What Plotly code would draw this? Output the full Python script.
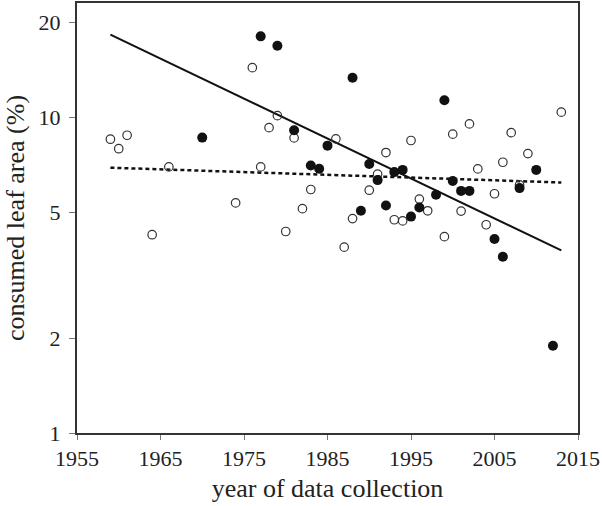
import plotly.graph_objects as go

# Open circles
open_years = [1959, 1960, 1961, 1966, 1964, 1976, 1979, 1978, 1981, 1986,
              1977, 1983, 1974, 1982, 1980, 1987, 2013, 2002, 2000, 2007,
              1995, 1992, 2009, 2006, 2003, 1991, 2005, 2008, 1990, 1996,
              1988, 1997, 2001, 1993, 1994, 2004, 1999]
open_vals = [8.53, 7.96, 8.78, 6.97, 4.25, 14.38, 10.13, 9.28, 8.61, 8.55,
             6.97, 5.91, 5.36, 5.14, 4.35, 3.88, 10.39, 9.54, 8.85, 8.95,
             8.45, 7.74, 7.68, 7.21, 6.87, 6.61, 5.73, 6.11, 5.88, 5.51,
             4.78, 5.06, 5.05, 4.74, 4.70, 4.57, 4.19]

# Filled circles
filled_years = [1970, 1977, 1979, 1981, 1985, 1983, 1984, 1988, 1999, 1990,
                2010, 1991, 1993, 1994, 2000, 2001, 2002, 2008, 1998, 1989,
                1992, 1996, 1995, 2005, 2006, 2012]
filled_vals = [8.63, 18.07, 16.88, 9.11, 8.14, 7.04, 6.88, 13.36, 11.34, 7.12,
               6.82, 6.33, 6.71, 6.82, 6.29, 5.85, 5.85, 5.97, 5.69, 5.06,
               5.26, 5.18, 4.85, 4.12, 3.62, 1.89]

# Trend lines
trend_years = [1959, 2013]
solid_trend = [18.3, 3.79]
dotted_trend = [6.93, 6.22]

x_ticks = [1955, 1965, 1975, 1985, 1995, 2005, 2015]
y_ticks = [1, 2, 5, 10, 20]

FONT = "Liberation Serif"

fig = go.Figure()
fig.add_trace(go.Scatter(x=trend_years, y=solid_trend, mode="lines",
                         line=dict(color="#111", width=2), showlegend=False))
fig.add_trace(go.Scatter(x=trend_years, y=dotted_trend, mode="lines",
                         line=dict(color="#111", width=2.5, dash="4px,3px"),
                         showlegend=False))
fig.add_trace(go.Scatter(x=open_years, y=open_vals, mode="markers",
                         marker=dict(symbol="circle-open", size=8.5, color="#333",
                                     line=dict(width=1.2, color="#333")),
                         showlegend=False))
fig.add_trace(go.Scatter(x=filled_years, y=filled_vals, mode="markers",
                         marker=dict(symbol="circle", size=10, color="#111",
                                     line=dict(width=0)),
                         showlegend=False))

fig.update_layout(
    width=602, height=506,
    margin=dict(l=77, r=24, t=3, b=73, autoexpand=False),
    paper_bgcolor="white", plot_bgcolor="white",
    font=dict(family=FONT, size=22, color="#222"),
)
fig.update_xaxes(
    range=[1955, 2015], tickvals=x_ticks, ticktext=[str(v) for v in x_ticks],
    ticks="outside", ticklen=5, tickcolor="#777", tickwidth=1,
    showline=True, linecolor="#333", linewidth=2, mirror=True,
    showgrid=False, zeroline=False, automargin=False,
    title=dict(text="year of data collection", standoff=8),
)
fig.update_yaxes(
    type="log", range=[0, 1.3626], tickvals=y_ticks,
    ticktext=[str(v) for v in y_ticks],
    ticks="outside", ticklen=6, tickcolor="#777", tickwidth=1,
    ticklabelstandoff=4,
    showline=True, linecolor="#333", linewidth=2, mirror=True,
    showgrid=False, zeroline=False, automargin=False,
    title=dict(text="consumed leaf area (%)", standoff=6),
)

fig.write_html(
    "out.html",
    config={"displayModeBar": False},
    post_script="document.body.style.margin='0';document.body.style.padding='0';",
)
